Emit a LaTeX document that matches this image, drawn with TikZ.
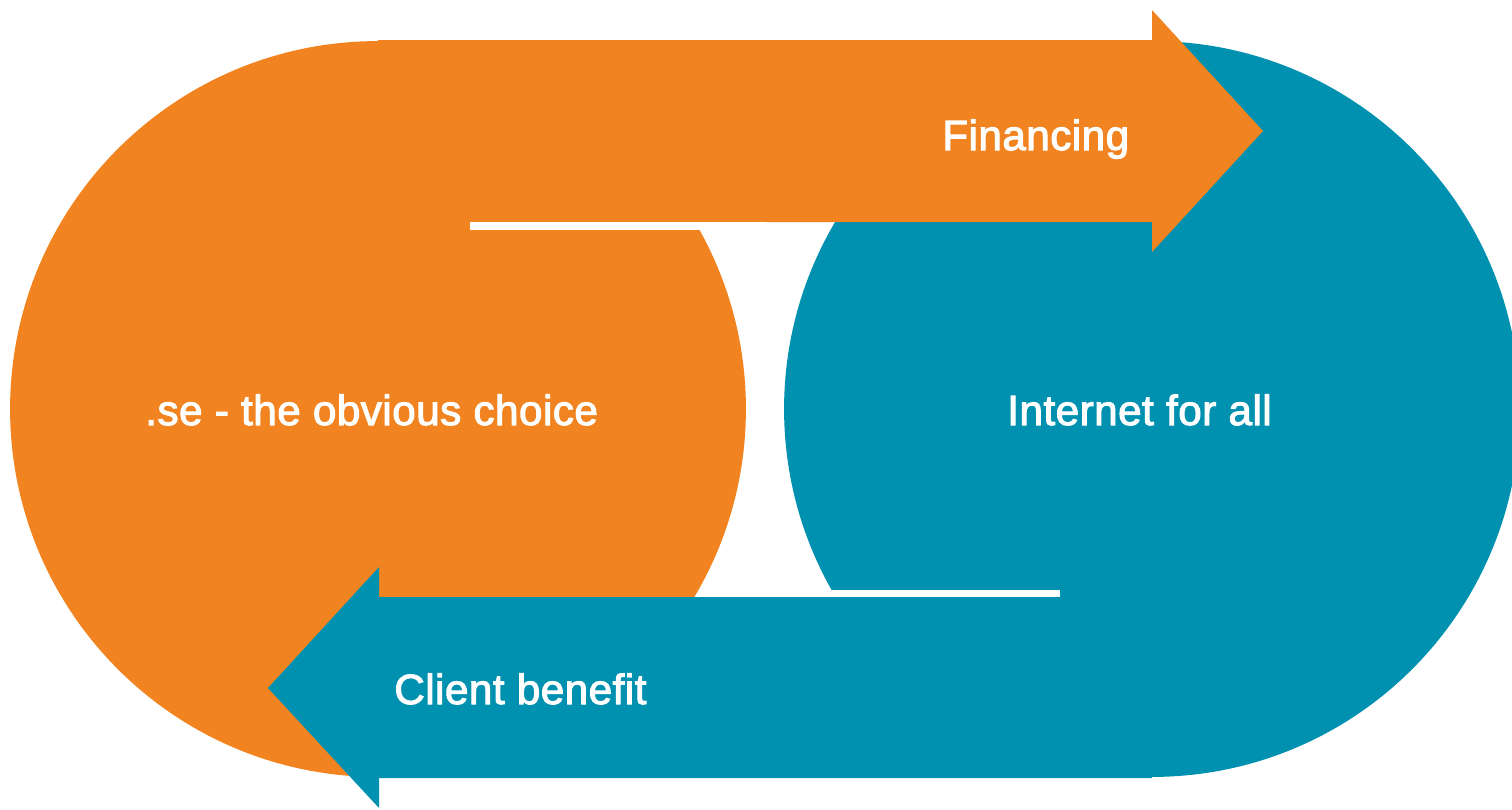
\documentclass[tikz,border=0pt]{standalone}
\usepackage{fontspec}
\newfontfamily\tagfont[FakeBold=2.5, LetterSpace=1.2]{Liberation Sans}
\usepackage{tikz}
\definecolor{seorange}{RGB}{241,132,33}
\definecolor{seteal}{RGB}{0,145,176}
\tikzstyle{orangefill} = [fill=seorange, draw=none]
\tikzstyle{tealfill} = [fill=seteal, draw=none]
\tikzstyle{gap} = [fill=white, draw=none]
\tikzstyle{word} = [text=white, inner sep=0pt, anchor=base west,
    font=\tagfont\fontsize{24}{29}\selectfont]

\begin{document}
\begin{tikzpicture}[x=0.02cm, y=-0.02cm]
    \useasboundingbox (0,0) rectangle (1512,809);
    \clip (0,0) rectangle (1512,809);
    % Place discs
    \coordinate (lc) at (378,409);
    \coordinate (rc) at (1152,409);
    \fill [orangefill] (lc) circle [radius=7.36cm];
    \fill [tealfill] (rc) circle [radius=7.36cm];

    % Draw arrows
    \fill [orangefill] (378,40) -- (1152,40) -- (1152,10) -- (1263,131)
        -- (1152,252) -- (1152,222) -- (378,222) -- cycle;
    \fill [tealfill] (1152,778) -- (379,778) -- (379,808) -- (268,688)
        -- (379,567) -- (379,597) -- (1152,597) -- cycle;
    \fill [gap] (470,222) rectangle (765,230);
    \fill [gap] (765,590) rectangle (1060,597);

    % Place labels
    \node [word] (financing) at (942,150) {Financing};
    \node [word] (choice) at (145,425) {.se - the obvious choice};
    \node [word] (internet) at (1007,425) {Internet for all};
    \node [word] (benefit) at (394,704) {Client benefit};
\end{tikzpicture}
\end{document}
